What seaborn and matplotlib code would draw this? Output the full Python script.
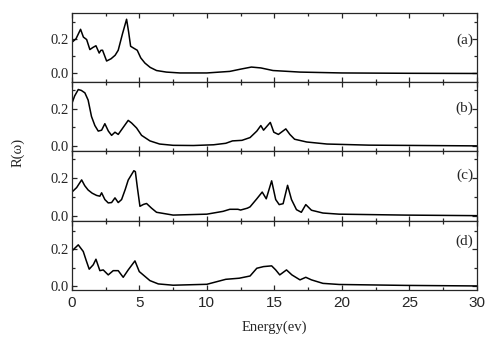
import numpy as np
import pandas as pd
import seaborn as sns
import matplotlib
matplotlib.use("Agg")
import matplotlib.pyplot as plt
from matplotlib.ticker import MultipleLocator

# reflectivity curves, one pair of lists per panel
e_a = [0, 0.3, 0.64, 0.85, 1.09, 1.33, 1.55, 1.78, 2.02, 2.15, 2.27, 2.57, 2.9, 3.2, 3.43,
       3.75, 4.05, 4.2, 4.35, 4.6, 4.84, 5.1, 5.41, 5.8, 6.27, 7, 8, 10, 11.7, 12.5, 13.3,
       14.0, 14.9, 16.9, 20, 25, 30]
r_a = [0.18, 0.2, 0.255, 0.21, 0.196, 0.138, 0.15, 0.16, 0.118, 0.134, 0.134, 0.072, 0.085,
       0.105, 0.134, 0.23, 0.313, 0.24, 0.157, 0.145, 0.134, 0.09, 0.06, 0.035, 0.017, 0.008,
       0.003, 0.003, 0.012, 0.025, 0.037, 0.032, 0.017, 0.008, 0.003, 0.001, 0.0]

e_b = [0, 0.2, 0.47, 0.7, 0.96, 1.2, 1.45, 1.7, 1.95, 2.2, 2.44, 2.7, 2.94, 3.19, 3.43, 3.8,
       4.17, 4.42, 4.79, 5.16, 5.78, 6.5, 7.5, 9, 10.5, 11.4, 11.9, 12.6, 13.2, 13.7, 14.0,
       14.2, 14.7, 14.96, 15.3, 15.85, 16.15, 16.5, 17.4, 18.9, 22, 26, 30]
r_b = [0.23, 0.27, 0.305, 0.3, 0.287, 0.248, 0.159, 0.11, 0.08, 0.085, 0.12, 0.08, 0.057,
       0.074, 0.062, 0.1, 0.138, 0.124, 0.097, 0.057, 0.027, 0.01, 0.003, 0.002, 0.006, 0.014,
       0.027, 0.03, 0.045, 0.08, 0.11, 0.085, 0.127, 0.074, 0.062, 0.092, 0.062, 0.036, 0.021,
       0.01, 0.004, 0.002, 0.0]

e_c = [0, 0.35, 0.72, 0.95, 1.2, 1.5, 1.83, 2.07, 2.2, 2.44, 2.69, 2.94, 3.19, 3.43, 3.68,
       3.95, 4.17, 4.59, 4.7, 4.85, 5.04, 5.3, 5.53, 5.9, 6.27, 7.5, 10, 11.2, 11.7, 12.3,
       12.5, 13.0, 13.2, 13.7, 14.1, 14.4, 14.8, 15.1, 15.36, 15.65, 15.98, 16.27, 16.64,
       17.0, 17.33, 17.75, 18.6, 19.8, 24.7, 30]
r_c = [0.126, 0.15, 0.191, 0.16, 0.137, 0.12, 0.108, 0.104, 0.122, 0.086, 0.068, 0.07, 0.095,
       0.07, 0.086, 0.14, 0.19, 0.24, 0.235, 0.15, 0.05, 0.06, 0.065, 0.04, 0.018, 0.003,
       0.008, 0.023, 0.034, 0.034, 0.03, 0.04, 0.047, 0.09, 0.126, 0.09, 0.186, 0.086, 0.059,
       0.064, 0.162, 0.086, 0.032, 0.018, 0.059, 0.029, 0.014, 0.008, 0.003, 0.0]

e_d = [0, 0.47, 0.84, 1.05, 1.28, 1.58, 1.78, 2.07, 2.32, 2.69, 3.06, 3.43, 3.8, 4.17, 4.67,
       4.99, 5.28, 5.78, 6.4, 7.5, 10, 11.4, 12.4, 13.2, 13.7, 14.2, 14.8, 15.1, 15.4, 15.9,
       16.3, 16.9, 17.33, 17.75, 18.6, 19.8, 24.7, 30]
r_d = [0.19, 0.223, 0.187, 0.14, 0.091, 0.115, 0.145, 0.083, 0.087, 0.06, 0.083, 0.083, 0.047,
       0.087, 0.136, 0.078, 0.06, 0.029, 0.011, 0.004, 0.009, 0.036, 0.042, 0.054, 0.096,
       0.105, 0.109, 0.087, 0.06, 0.087, 0.06, 0.033, 0.047, 0.033, 0.014, 0.008, 0.003, 0.0]

panel_labels = ["(a)", "(b)", "(c)", "(d)"]
y_ticks = [0.0, 0.2]

sns.set_style("ticks")
plt.rcParams["font.family"] = ["Liberation Serif", "DejaVu Serif"]

fig = plt.figure(figsize=(4.86, 3.38), dpi=100)
gs = fig.add_gridspec(4, 1, left=0.148, right=0.981, top=0.962, bottom=0.142, hspace=0)
axes = [fig.add_subplot(gs[i, 0]) for i in range(4)]

curves = [(e_a, r_a), (e_b, r_b), (e_c, r_c), (e_d, r_d)]
ylims = [(-0.05, 0.35), (-0.03, 0.345), (-0.027, 0.343), (-0.022, 0.354)]
label_y = [0.6, 0.62, 0.65, 0.7]

for i, ax in enumerate(axes):
    e, r = curves[i]
    df = pd.DataFrame({"Energy": e, "R": r})
    sns.lineplot(data=df, x="Energy", y="R", ax=ax, color="black", linewidth=1.1)
    ax.set_xlim(0, 30)
    ax.set_ylim(*ylims[i])
    ax.set_yticks(y_ticks)
    ax.set_yticklabels(["0.0", "0.2"])
    ax.yaxis.set_minor_locator(MultipleLocator(0.1))
    ax.xaxis.set_major_locator(MultipleLocator(5))
    ax.xaxis.set_minor_locator(MultipleLocator(2.5))
    ax.tick_params(which="both", direction="in", top=True, right=True, width=0.9)
    ax.tick_params(which="major", length=3.5)
    ax.tick_params(which="minor", length=2)
    ax.tick_params(axis="y", labelsize=10.5, pad=2)
    for s in ax.spines.values():
        s.set_linewidth(0.9)
    ax.set_xlabel("")
    ax.set_ylabel("")
    ax.text(0.992, label_y[i], panel_labels[i], transform=ax.transAxes,
            ha="right", va="center", fontsize=11)
    if i < 3:
        ax.tick_params(axis="x", labelbottom=False)

axes[3].tick_params(axis="x", labelsize=11, pad=4)
for lab in axes[3].get_xticklabels():
    lab.set_family(["Liberation Sans", "DejaVu Sans"])
axes[3].set_xlabel("Energy(ev)", fontsize=10.5, labelpad=8)

fig.text(0.037, 0.55, "R(ω)", rotation=90, ha="center", va="center", fontsize=10.5)

fig.savefig("out.png", dpi=100)
